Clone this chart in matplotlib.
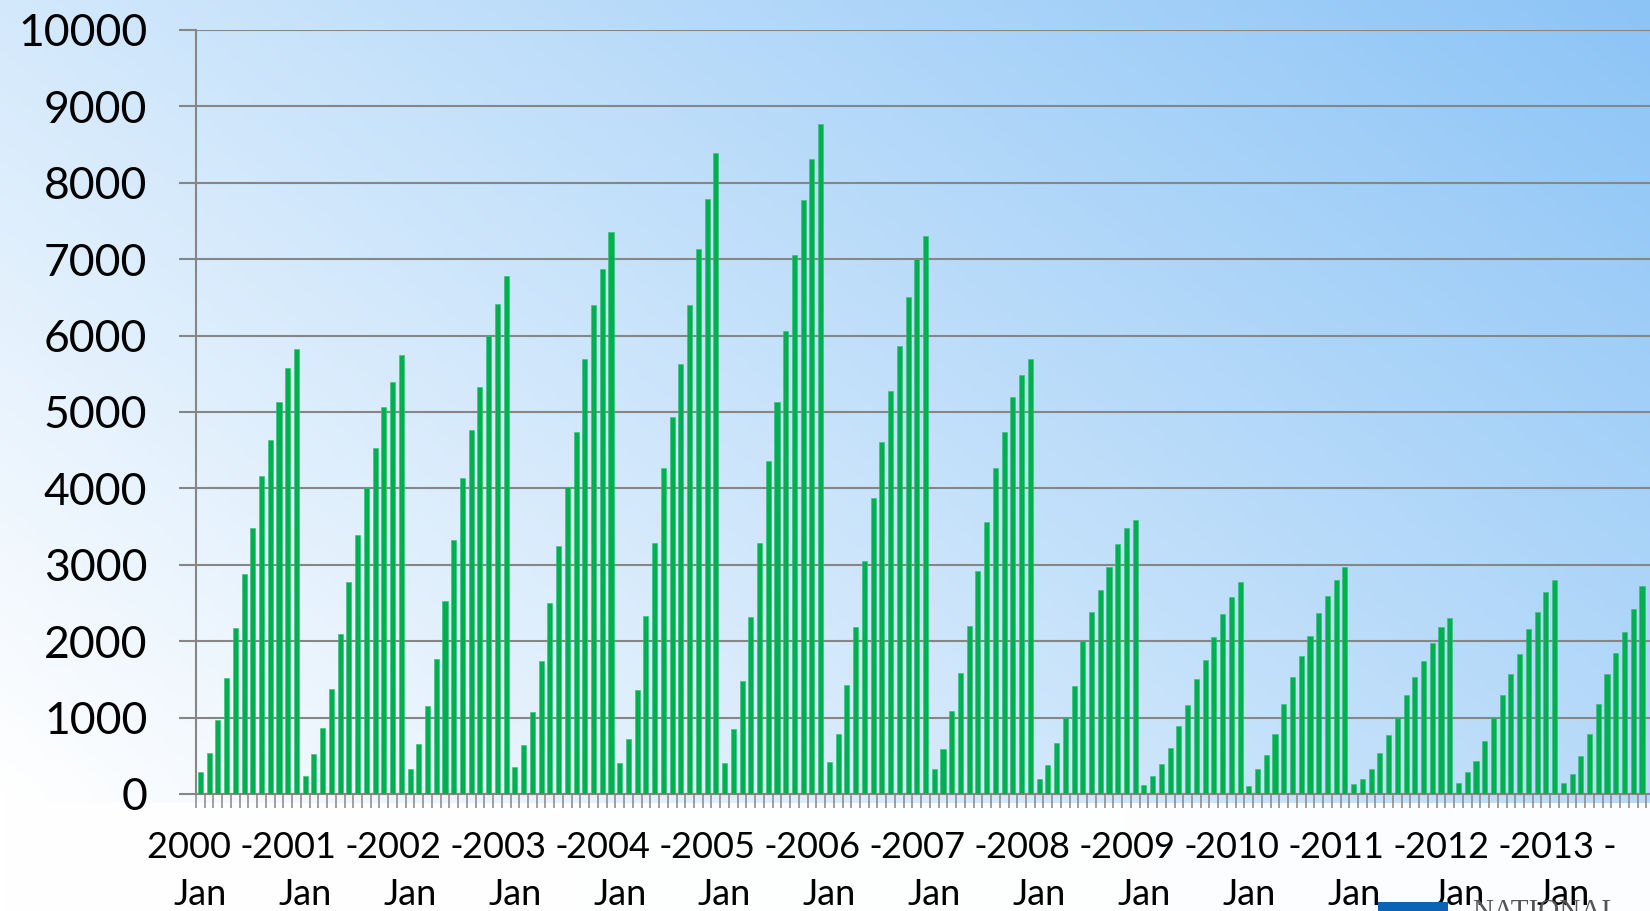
import matplotlib.pyplot as plt
import numpy as np
from matplotlib.patches import Rectangle

# monthly running totals, Jan..Dec of each year
y2000 = [290, 540, 965, 1520, 2170, 2880, 3480, 4160, 4640, 5125, 5580, 5820]
y2001 = [240, 530, 870, 1370, 2100, 2770, 3390, 4010, 4525, 5070, 5390, 5745]
y2002 = [325, 650, 1150, 1765, 2520, 3325, 4135, 4770, 5325, 5990, 6415, 6785]
y2003 = [350, 645, 1070, 1740, 2505, 3250, 4020, 4740, 5690, 6405, 6870, 7360]
y2004 = [405, 725, 1365, 2325, 3285, 4270, 4935, 5625, 6400, 7135, 7790, 8385]
y2005 = [400, 850, 1475, 2320, 3290, 4360, 5135, 6060, 7050, 7770, 8310, 8765]
y2006 = [415, 790, 1425, 2190, 3045, 3875, 4610, 5275, 5860, 6510, 7000, 7305]
y2007 = [325, 590, 1090, 1580, 2195, 2925, 3560, 4265, 4740, 5190, 5480, 5690]
y2008 = [200, 375, 665, 995, 1410, 2000, 2385, 2670, 2970, 3270, 3480, 3580]
y2009 = [115, 235, 395, 605, 890, 1165, 1505, 1750, 2060, 2355, 2580, 2775]
y2010 = [110, 325, 505, 785, 1175, 1525, 1800, 2065, 2370, 2590, 2800, 2965]
y2011 = [125, 190, 330, 535, 775, 1000, 1300, 1525, 1745, 1970, 2190, 2305]
y2012 = [140, 290, 435, 700, 990, 1295, 1565, 1835, 2165, 2380, 2650, 2795]
y2013 = [140, 265, 495, 780, 1180, 1570, 1840, 2115, 2415, 2725]

years = list(range(2000, 2014))
values = (y2000 + y2001 + y2002 + y2003 + y2004 + y2005 + y2006 + y2007
          + y2008 + y2009 + y2010 + y2011 + y2012 + y2013)
year_labels = [f"{y} -\nJan" for y in years]

plt.rcParams['font.family'] = ['Lato', 'DejaVu Sans']

W, H = 1650, 911
fig = plt.figure(figsize=(W / 100, H / 100), dpi=100)

# soft diagonal background: white at bottom left, blue toward top right
bg = fig.add_axes([0, 0, 1, 1], zorder=-10)
gx = np.linspace(0, 1, 400)
gy = np.linspace(0, 1, 220)
X, Y = np.meshgrid(gx, gy)
axis_frac = 117 / H
up = np.clip((Y - axis_frac) / (1 - axis_frac), 0, 1)
t = 0.62 * X + 0.38 * up
t = np.where(Y < axis_frac - 0.01, 0.04 * t, t)
white = np.array([1.0, 1.0, 1.0])
blue = np.array([0x8c, 0xc4, 0xf6]) / 255
img = white[None, None, :] * (1 - t[..., None]) + blue[None, None, :] * t[..., None]
bg.imshow(img, origin='lower', extent=[0, 1, 0, 1], aspect='auto')
bg.set_axis_off()

grey = '#868686'
ax = fig.add_axes([196 / W, 117 / H, 1454 / W, 764 / H])
ax.patch.set_alpha(0)

x = np.arange(len(values))
ax.bar(x, values, width=0.58, color='#00b050', edgecolor='#2cc46c', linewidth=0.4, zorder=3)

ax.set_yticks(np.arange(0, 10001, 1000))
ax.yaxis.grid(True, color=grey, linewidth=1.5)
ax.set_axisbelow(True)
ax.tick_params(axis='y', length=12, width=1.5, color=grey, pad=23, labelsize=32)

# one label at each January, a small tick at every month boundary
ax.set_xticks(np.arange(0, len(years) * 12, 12))
ax.set_xticklabels(year_labels, fontsize=26, linespacing=1.5)
ax.set_xticks(np.arange(-0.5, 168, 1), minor=True)
ax.tick_params(axis='x', which='major', length=0, pad=27)
ax.tick_params(axis='x', which='minor', length=10, width=1.1, color=grey)

# limits last, so the tick lists do not widen them
ax.set_xlim(-0.5, -0.5 + 1454 / 8.737)
ax.set_ylim(0, 10000)

for s in ['top', 'right']:
    ax.spines[s].set_visible(False)
ax.spines['left'].set_color(grey)
ax.spines['left'].set_linewidth(1.5)
ax.spines['bottom'].set_color(grey)
ax.spines['bottom'].set_linewidth(1.5)

# logo strip at the lower right corner
fig.patches.append(Rectangle((1378 / W, 0), 70 / W, 9 / H, transform=fig.transFigure,
                             facecolor='#0b63b3', edgecolor='none', zorder=5))
fig.text(1472 / W, (H - 899) / H, 'NATIONAL', family='Liberation Serif',
         fontsize=21, color='#555555', va='top', ha='left')

fig.savefig('out.png', dpi=100)
